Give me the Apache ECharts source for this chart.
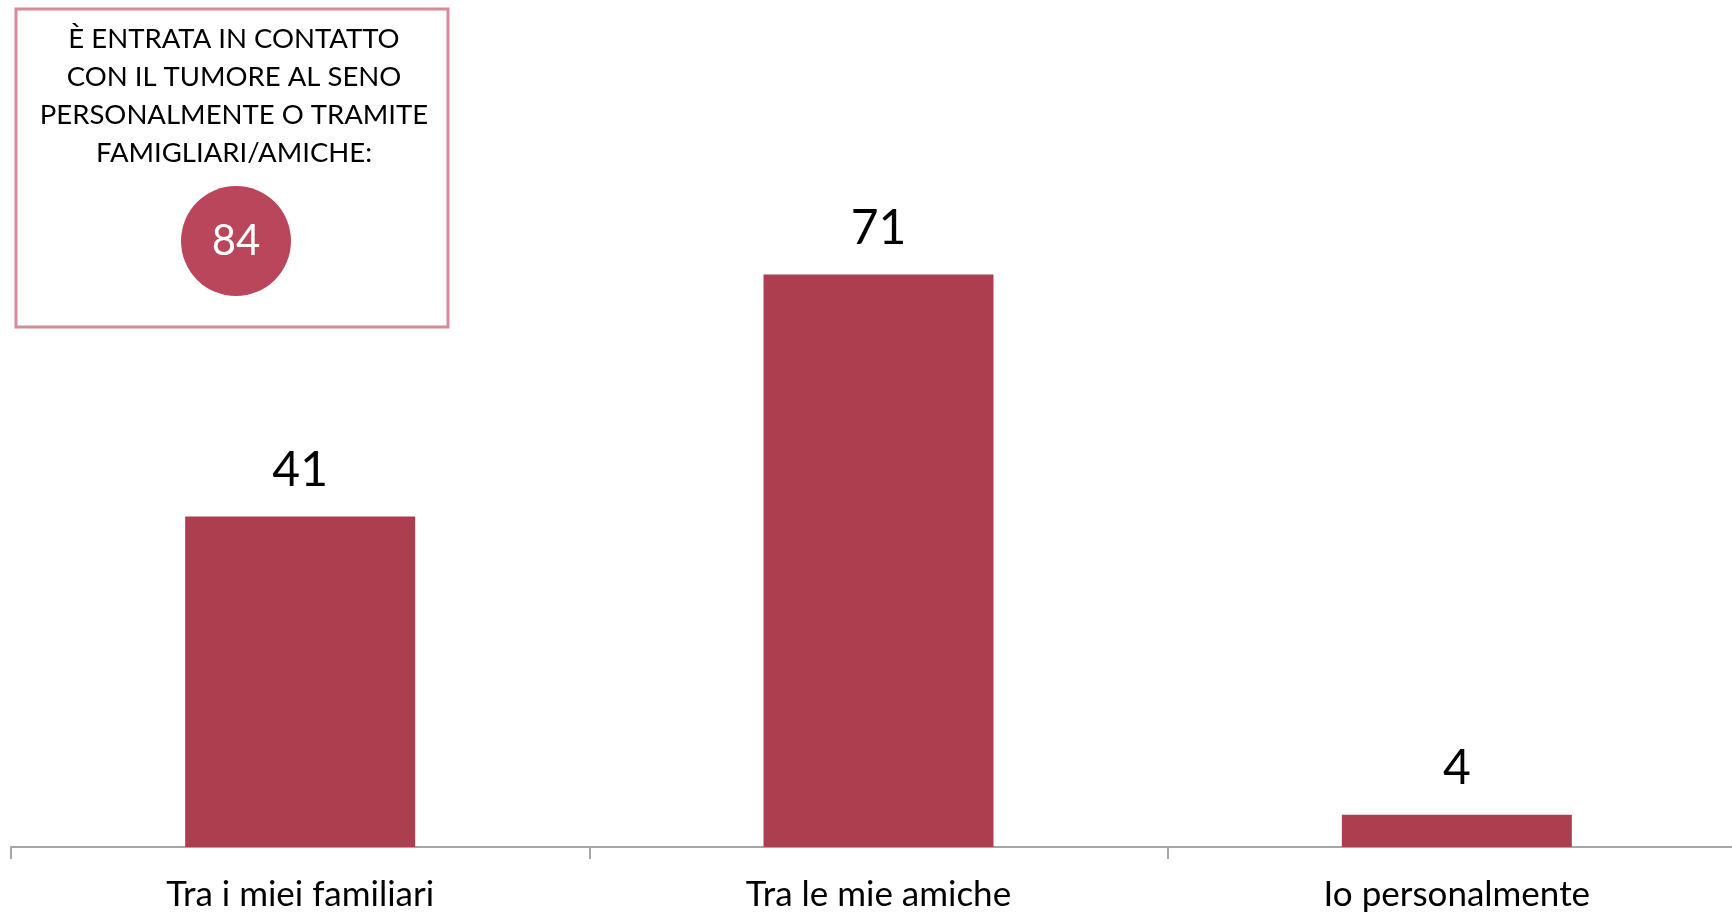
<!DOCTYPE html>
<html>
<head>
<meta charset="utf-8">
<script src="https://cdn.jsdelivr.net/npm/echarts@6/dist/echarts.min.js"></script>
<style>
html,body{margin:0;padding:0;background:#fff;overflow:hidden;width:1732px;height:915px;}
#chart{width:1746px;height:915px;}
</style>
</head>
<body>
<div id="chart"></div>
<script>
const categories = ['Tra i miei familiari', 'Tra le mie amiche', 'Io personalmente'];
const values = [41, 71, 4];
const boxTitleLines = ['È ENTRATA IN CONTATTO', 'CON IL TUMORE AL SENO', 'PERSONALMENTE O TRAMITE', 'FAMIGLIARI/AMICHE:'];
const boxValue = [84];

const FONT = 'Lato, "Open Sans", sans-serif';
const chart = echarts.init(document.getElementById('chart'));
chart.setOption({
  animation: false,
  backgroundColor: '#ffffff',
  grid: { left: 11, right: 0, top: 202, bottom: 68, containLabel: false, outerBoundsMode: 'none' },
  xAxis: {
    type: 'category',
    data: categories,
    axisLine: { lineStyle: { color: '#A6A6A6', width: 2 } },
    axisTick: { show: true, length: 12, lineStyle: { color: '#A6A6A6', width: 2 } },
    axisLabel: { color: '#000', fontSize: 35, fontFamily: FONT, margin: 30 }
  },
  yAxis: { type: 'value', min: 0, max: 80, show: false, splitLine: { show: false } },
  series: [{
    type: 'bar',
    data: values,
    barWidth: 230,
    itemStyle: { color: '#AD3E50' },
    label: { show: true, position: 'top', distance: 22, color: '#000', fontSize: 48, fontFamily: FONT }
  }],
  graphic: [
    { type: 'rect', shape: { x: 16, y: 9, width: 432, height: 318 },
      style: { fill: '#fff', stroke: '#D48A98', lineWidth: 3 } },
    { type: 'text', x: 234, y: 20,
      style: { text: boxTitleLines.join('\n'), font: '27.5px ' + FONT, fill: '#000',
               textAlign: 'center', textVerticalAlign: 'top', lineHeight: 38 } },
    { type: 'circle', shape: { cx: 236, cy: 241, r: 55 }, style: { fill: '#B9465A' } },
    { type: 'text', x: 236, y: 241,
      style: { text: String(boxValue[0]), font: '42px ' + FONT, fill: '#fff', textAlign: 'center', textVerticalAlign: 'middle' } }
  ]
});
</script>
</body>
</html>
